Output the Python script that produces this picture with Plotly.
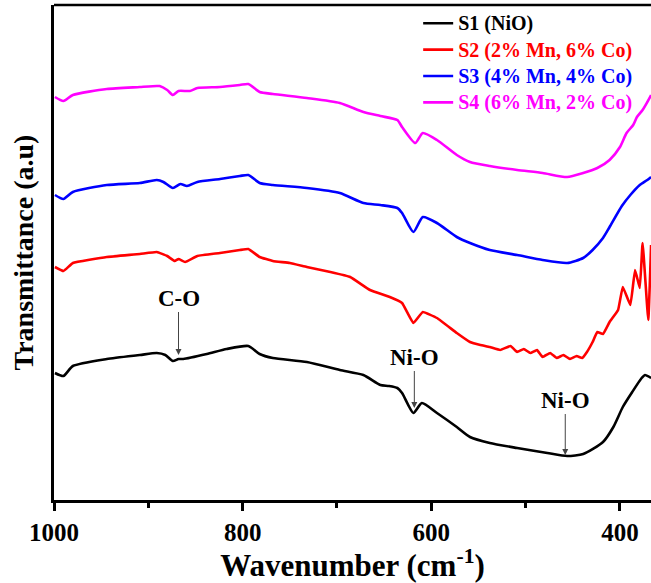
import plotly.graph_objects as go

# ---- data (wavenumber in cm-1, transmittance in arbitrary offset units) ----
s1_wn = [999, 990, 980, 944, 909, 891, 882, 874, 868, 863, 838, 817, 794, 782, 768, 732, 697,
         672, 654, 645, 636, 631, 619, 610, 594, 573, 559, 538, 509, 477, 456, 439, 418, 407, 397,
         387, 377, 373.5, 367]
s1_t = [1.27, 1.24, 1.34, 1.41, 1.45, 1.47, 1.45, 1.39, 1.41, 1.41, 1.46, 1.51, 1.54, 1.46, 1.42,
        1.38, 1.30, 1.25, 1.15, 1.14, 1.12, 1.07, 0.87, 0.97, 0.87, 0.73, 0.63, 0.57, 0.52, 0.47, 0.44,
        0.46, 0.58, 0.73, 0.93, 1.08, 1.22, 1.25, 1.22]

s2_wn = [999, 990, 980, 944, 909, 891, 880, 872, 868, 861, 848, 824, 803, 794, 782, 768, 750,
         732, 707, 686, 665, 644, 631, 619, 609, 594, 573, 559, 548, 538, 527, 516, 509, 502, 495,
         488, 482, 474, 467, 460, 453, 446, 440, 435, 429, 424, 418, 411, 402, 397, 389, 384, 379,
         376, 370, 367]
s2_t = [2.33, 2.29, 2.37, 2.43, 2.46, 2.48, 2.44, 2.39, 2.41, 2.38, 2.44, 2.47, 2.50, 2.51, 2.43,
        2.39, 2.37, 2.33, 2.28, 2.23, 2.10, 2.03, 1.97, 1.77, 1.88, 1.82, 1.67, 1.58, 1.55, 1.53,
        1.50, 1.54, 1.48, 1.51, 1.47, 1.50, 1.43, 1.47, 1.42, 1.45, 1.41, 1.44, 1.42, 1.48, 1.58,
        1.68, 1.66, 1.78, 1.90, 2.13, 1.95, 2.30, 2.12, 2.57, 1.80, 2.55]

s3_wn = [999, 990, 980, 944, 909, 891, 884, 874, 866, 859, 848, 824, 803, 794, 782, 768, 732,
         697, 672, 654, 636, 631, 619, 609, 594, 573, 559, 538, 509, 482, 456, 439, 429, 418,
         411, 398, 389, 379, 371, 367]
s3_t = [3.05, 3.01, 3.08, 3.15, 3.17, 3.20, 3.18, 3.12, 3.16, 3.14, 3.18, 3.21, 3.24, 3.25, 3.17,
        3.15, 3.12, 3.07, 2.97, 2.95, 2.92, 2.87, 2.68, 2.83, 2.77, 2.63, 2.57, 2.50, 2.45, 2.40,
        2.37, 2.42, 2.50, 2.62, 2.73, 2.94, 3.05, 3.15, 3.20, 3.23]

s4_wn = [999, 990, 980, 944, 909, 891, 888, 880, 874, 868, 856, 848, 824, 803, 794, 782, 768,
         732, 697, 672, 654, 636, 631, 617, 609, 594, 573, 559, 538, 509, 482, 456, 439, 424,
         411, 400, 393, 386, 382, 376, 371, 367]
s4_t = [4.03, 3.99, 4.05, 4.11, 4.13, 4.14, 4.14, 4.10, 4.05, 4.09, 4.09, 4.12, 4.13, 4.15, 4.16,
        4.08, 4.06, 4.02, 3.97, 3.88, 3.84, 3.80, 3.73, 3.57, 3.67, 3.60, 3.45, 3.38, 3.34, 3.30,
        3.27, 3.23, 3.27, 3.32, 3.40, 3.53, 3.67, 3.75, 3.83, 3.90, 3.98, 4.05]

names = ["S1 (NiO)", "S2 (2% Mn, 6% Co)", "S3 (4% Mn, 4% Co)", "S4 (6% Mn, 2% Co)"]
colors = ["#000000", "#FF0000", "#0000FF", "#FF00FF"]
smooth = [0.6, 0.3, 0.6, 0.6]

x_ticks = [1000, 800, 600, 400]

# annotations: label, wavenumber, transmittance at arrow head
ann_labels = ["C-O", "Ni-O", "Ni-O"]
ann_wn = [868, 618, 458]
ann_t = [1.45, 0.92, 0.45]

FONT = "Liberation Serif, Times New Roman, serif"

fig = go.Figure()
for wn, t, nm, c, sm in zip([s1_wn, s2_wn, s3_wn, s4_wn], [s1_t, s2_t, s3_t, s4_t], names, colors, smooth):
    fig.add_trace(go.Scatter(
        x=wn, y=t, mode="lines", line=dict(color=c, width=2.6, shape="spline", smoothing=sm),
        name=f"<span style='color:{c};font-size:20px'>{nm}</span>",
    ))

ays = [-57, -51, -55]
for lab, w, t, ay in zip(ann_labels, ann_wn, ann_t, ays):
    fig.add_annotation(
        x=w, y=t, text=lab, showarrow=True, ax=0, ay=ay,
        arrowhead=2, arrowsize=1.2, arrowwidth=1, arrowcolor="#444444",
        font=dict(family=FONT, size=23, color="black", weight="bold"),
    )

fig.add_shape(type="line", xref="paper", yref="paper", x0=0, x1=1, y0=1, y1=1,
              line=dict(color="black", width=2.6))

fig.update_layout(
    width=651, height=583,
    margin=dict(l=54, r=0, t=5, b=83),
    plot_bgcolor="white", paper_bgcolor="white",
    font=dict(family=FONT, color="black"),
    showlegend=True,
    legend=dict(
        x=0.61, y=1.0, xanchor="left", yanchor="top",
        bgcolor="rgba(0,0,0,0)", borderwidth=0,
        font=dict(family=FONT, size=18, weight="bold"),
        tracegroupgap=0,
    ),
    xaxis=dict(
        range=[1000, 367.1], tickvals=x_ticks,
        ticks="outside", ticklen=8, tickwidth=2.5, tickcolor="black",
        minor=dict(dtick=100, tick0=0, ticks="outside", ticklen=5, tickwidth=2.5, tickcolor="black"),
        showline=True, linewidth=2.6, linecolor="black",
        showgrid=False, zeroline=False,
        tickfont=dict(family=FONT, size=25, weight="bold"),
        title=dict(text="Wavenumber (cm<sup>-1</sup>)", standoff=6,
                   font=dict(family=FONT, size=31, weight="bold")),
    ),
    yaxis=dict(
        range=[0, 4.95], showticklabels=False, ticks="",
        showline=True, linewidth=2.6, linecolor="black",
        showgrid=False, zeroline=False,
        title=dict(text="Transmittance (a.u)", standoff=10,
                   font=dict(family=FONT, size=28, weight="bold")),
    ),
)

fig.write_html("out.html")
